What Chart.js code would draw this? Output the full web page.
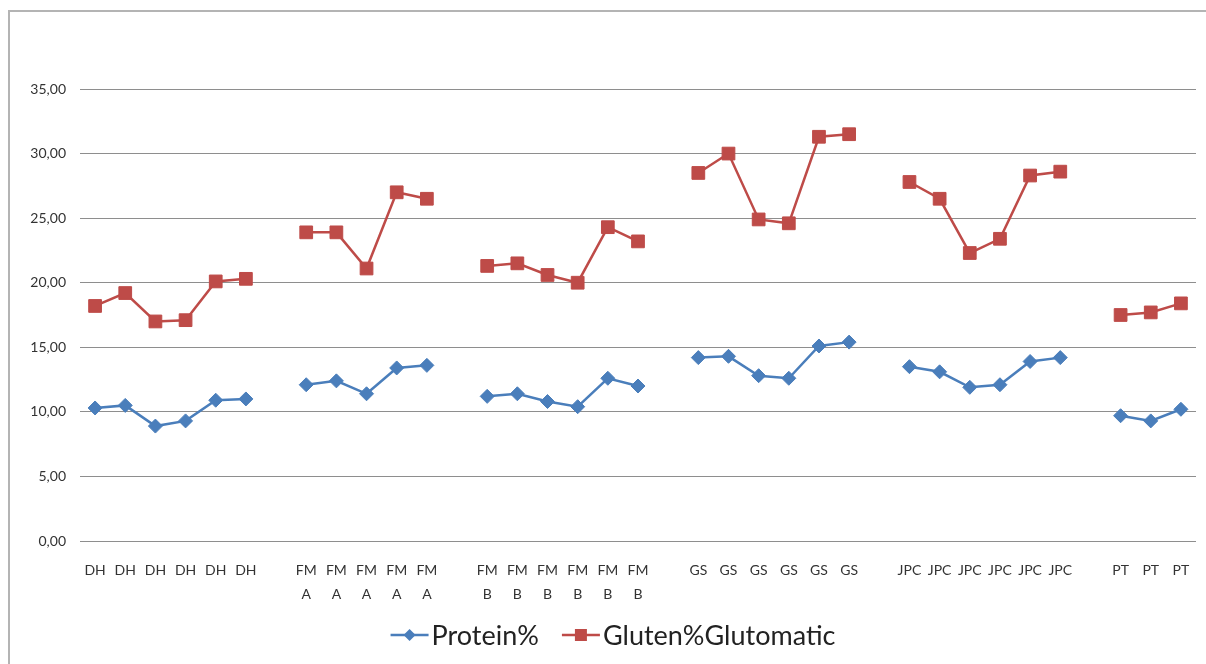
<!DOCTYPE html>
<html>
<head>
<meta charset="utf-8">
<script src="https://cdn.jsdelivr.net/npm/chart.js@4"></script>
<style>
  body { margin: 0; background: #fff; }
  #wrap { position: relative; width: 1206px; height: 664px; overflow: hidden; }
  #frame { position: absolute; left: 8px; top: 10px; width: 1300px; height: 800px;
           border-left: 2px solid #b4b4b4; border-top: 2px solid #b4b4b4; }
  #myChart { position: absolute; left: 0; top: 0; }
</style>
</head>
<body>
<div id="wrap">
  <div id="frame"></div>
  <canvas id="myChart" width="1206" height="664"></canvas>
</div>
<script>
// categories, '' = gap between groups
const categories = [
    'DH', 'DH', 'DH', 'DH', 'DH', 'DH', '',
    ['FM', 'A'], ['FM', 'A'], ['FM', 'A'], ['FM', 'A'], ['FM', 'A'], '',
    ['FM', 'B'], ['FM', 'B'], ['FM', 'B'], ['FM', 'B'], ['FM', 'B'], ['FM', 'B'], '',
    'GS', 'GS', 'GS', 'GS', 'GS', 'GS', '',
    'JPC', 'JPC', 'JPC', 'JPC', 'JPC', 'JPC', '',
    'PT', 'PT', 'PT'
];
const protein = [
    10.3, 10.5, 8.9, 9.3, 10.9, 11.0, null,
    12.1, 12.4, 11.4, 13.4, 13.6, null,
    11.2, 11.4, 10.8, 10.4, 12.6, 12.0, null,
    14.2, 14.3, 12.8, 12.6, 15.1, 15.4, null,
    13.5, 13.1, 11.9, 12.1, 13.9, 14.2, null,
    9.7, 9.3, 10.2
];
const gluten = [
    18.2, 19.2, 17.0, 17.1, 20.1, 20.3, null,
    23.9, 23.9, 21.1, 27.0, 26.5, null,
    21.3, 21.5, 20.6, 20.0, 24.3, 23.2, null,
    28.5, 30.0, 24.9, 24.6, 31.3, 31.5, null,
    27.8, 26.5, 22.3, 23.4, 28.3, 28.6, null,
    17.5, 17.7, 18.4
];
const yTicks = [0, 5, 10, 15, 20, 25, 30, 35];

const blue = '#4a7ebb';
const red = '#be4b48';
const font = 'Lato, "Open Sans", sans-serif';

// excel style legend: line with marker in middle
const lineLegend = {
    id: 'lineLegend',
    afterDraw(chart) {
        const c = chart.ctx;
        const items = chart.data.datasets;
        c.save();
        c.font = '27px ' + font;
        c.textBaseline = 'middle';
        const lineW = 38, gap = 3, between = 23;
        let total = 0;
        items.forEach((d, i) => {
            total += lineW + gap + c.measureText(d.label).width;
            if (i > 0) total += between;
        });
        let x = (chart.width - total) / 2 + 10;
        const y = 635;
        items.forEach(d => {
            c.strokeStyle = d.borderColor;
            c.lineWidth = 2.5;
            c.beginPath();
            c.moveTo(x, y);
            c.lineTo(x + lineW, y);
            c.stroke();
            c.fillStyle = d.backgroundColor;
            c.beginPath();
            if (d.pointStyle === 'rect') {
                c.rect(x + lineW / 2 - 6, y - 6, 12, 12);
            } else {
                c.moveTo(x + lineW / 2, y - 6);
                c.lineTo(x + lineW / 2 + 6, y);
                c.lineTo(x + lineW / 2, y + 6);
                c.lineTo(x + lineW / 2 - 6, y);
                c.closePath();
            }
            c.fill();
            c.fillStyle = '#222';
            c.fillText(d.label, x + lineW + gap, y + 1);
            x += lineW + gap + c.measureText(d.label).width + between;
        });
        c.restore();
    }
};

const ctx = document.getElementById('myChart').getContext('2d');
new Chart(ctx, {
    type: 'line',
    data: {
        labels: categories,
        datasets: [{
                label: 'Protein%',
                data: protein,
                borderColor: blue,
                backgroundColor: blue,
                borderWidth: 2.5,
                pointStyle: 'rectRot',
                pointRadius: 7,
                pointBorderWidth: 1,
                spanGaps: false
            },
            {
                label: 'Gluten%Glutomatic',
                data: gluten,
                borderColor: red,
                backgroundColor: red,
                borderWidth: 2.5,
                pointStyle: 'rect',
                pointRadius: 9,
                pointBorderWidth: 1,
                spanGaps: false
            }
        ]
    },
    options: {
        responsive: false,
        animation: false,
        layout: { padding: { left: 0, right: 9, top: 89, bottom: 0 } },
        plugins: {
            legend: { display: false },
            tooltip: { enabled: false }
        },
        scales: {
            x: {
                offset: true,
                grid: { display: false },
                border: { display: false },
                ticks: {
                    autoSkip: false,
                    maxRotation: 0,
                    minRotation: 0,
                    padding: 10,
                    color: '#333',
                    font: { family: font, size: 14, lineHeight: 1.7 }
                },
                afterFit(scale) { scale.height = 123; }
            },
            y: {
                min: 0,
                max: 35,
                afterBuildTicks(scale) { scale.ticks = yTicks.map(v => ({ value: v })); },
                grid: { color: '#8e8e8e', lineWidth: 1, drawTicks: false },
                border: { display: false },
                ticks: {
                    padding: 14,
                    color: '#333',
                    font: { family: font, size: 14 },
                    callback: v => v.toFixed(2).replace('.', ',')
                },
                afterFit(scale) { scale.width = 80; }
            }
        }
    },
    plugins: [lineLegend]
});
</script>
</body>
</html>
